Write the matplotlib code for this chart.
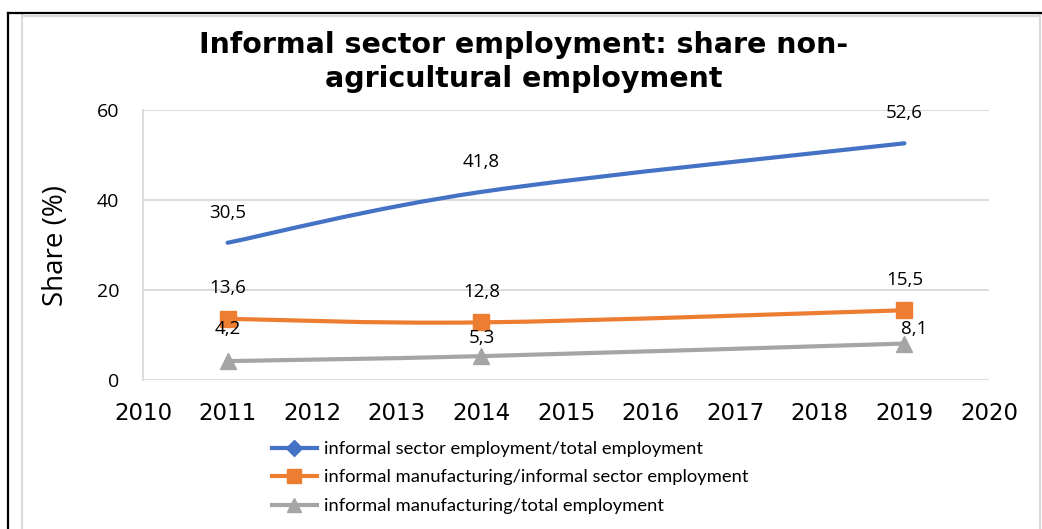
import matplotlib
matplotlib.use("Agg")
import matplotlib.pyplot as plt
from matplotlib.path import Path
from matplotlib.patches import PathPatch
from matplotlib.lines import Line2D

# ---- data ----
years = [2011, 2014, 2019]
sector_total = [30.5, 41.8, 52.6]
manuf_sector = [13.6, 12.8, 15.5]
manuf_total = [4.2, 5.3, 8.1]
labels_sector_total = ["30,5", "41,8", "52,6"]
labels_manuf_sector = ["13,6", "12,8", "15,5"]
labels_manuf_total = ["4,2", "5,3", "8,1"]
series_names = [
    "informal sector employment/total employment",
    "informal manufacturing/informal sector employment",
    "informal manufacturing/total employment",
]
x_ticks = list(range(2010, 2021))
y_ticks = [0, 20, 40, 60]

BLUE = "#4472C4"
ORANGE = "#ED7D31"
GRAY = "#A5A5A5"

fig = plt.figure(figsize=(10.42, 5.29), dpi=100)
W, H = 1042, 529
ax = fig.add_axes([143 / W, 1 - 380 / H, (989 - 143) / W, 270 / H])


def smooth_path(xs, ys):
    """Cubic Bezier path through the points (Catmull-Rom style smoothing)."""
    pts = list(zip(xs, ys))
    n = len(pts)
    verts = [pts[0]]
    codes = [Path.MOVETO]
    for i in range(n - 1):
        p0 = pts[i - 1] if i > 0 else pts[i]
        p1 = pts[i]
        p2 = pts[i + 1]
        p3 = pts[i + 2] if i + 2 < n else pts[i + 1]
        c1 = (p1[0] + (p2[0] - p0[0]) / 6, p1[1] + (p2[1] - p0[1]) / 6)
        c2 = (p2[0] - (p3[0] - p1[0]) / 6, p2[1] - (p3[1] - p1[1]) / 6)
        verts += [c1, c2, p2]
        codes += [Path.CURVE4] * 3
    return Path(verts, codes)


lw = 3.0
for ys, col in [(sector_total, BLUE), (manuf_sector, ORANGE), (manuf_total, GRAY)]:
    ax.add_patch(PathPatch(smooth_path(years, ys), fill=False, edgecolor=col,
                           linewidth=lw, capstyle="round", zorder=3))

ax.plot(years, manuf_sector, linestyle="none", marker="s", markersize=11,
        color=ORANGE, zorder=4)
ax.plot(years, manuf_total, linestyle="none", marker="^", markersize=12,
        color=GRAY, zorder=4)

# data labels
lab_font = dict(family="Open Sans", fontsize=13.5, color="#000000",
                ha="center", va="center")
offsets = {
    "st": [(0, 30), (0, 30), (0, 30)],
    "ms": [(0, 31), (0, 30), (0, 30)],
    "mt": [(0, 32), (0, 18), (10, 15)],
}
for key, ys, labs in [("st", sector_total, labels_sector_total),
                      ("ms", manuf_sector, labels_manuf_sector),
                      ("mt", manuf_total, labels_manuf_total)]:
    for x, y, t, off in zip(years, ys, labs, offsets[key]):
        ax.annotate(t, (x, y), xytext=off, textcoords="offset pixels",
                    zorder=5, **lab_font)

ax.set_xlim(2010, 2020)
ax.set_ylim(0, 60)
ax.set_xticks(x_ticks)
ax.set_yticks(y_ticks)
ax.set_xticklabels([str(t) for t in x_ticks], family="DejaVu Sans", fontsize=16.5)
ax.set_yticklabels([str(t) for t in y_ticks], family="Open Sans", fontsize=14)
ax.tick_params(axis="x", length=0, pad=16)
ax.tick_params(axis="y", length=0, pad=17)
ax.grid(axis="y", color="#D9D9D9", linewidth=1.3, zorder=0)
ax.set_axisbelow(True)
for s in ["top", "right", "bottom"]:
    ax.spines[s].set_visible(False)
ax.spines["left"].set_color("#D9D9D9")
ax.spines["left"].set_linewidth(1.3)

ax.set_ylabel("Share (%)", family="Open Sans", fontsize=20)
ax.yaxis.set_label_coords((70 - 143) / 846, 0.5)

fig.text(524 / W, 1 - 45 / H, "Informal sector employment: share non-",
         family="DejaVu Sans", fontweight="bold", fontsize=20.5,
         ha="center", va="center")
fig.text(524 / W, 1 - 79 / H, "agricultural employment",
         family="DejaVu Sans", fontweight="bold", fontsize=20.5,
         ha="center", va="center")

handles = [
    Line2D([], [], color=BLUE, linewidth=lw, marker="D", markersize=8),
    Line2D([], [], color=ORANGE, linewidth=lw, marker="s", markersize=10),
    Line2D([], [], color=GRAY, linewidth=lw, marker="^", markersize=10),
]
fig.legend(handles, series_names, loc="upper left",
           bbox_to_anchor=(272 / W, 1 - 441 / H), frameon=False,
           prop=dict(family="Lato", size=13.2), handlelength=2.45,
           handletextpad=0.4, labelspacing=0.68, borderaxespad=0,
           borderpad=0)

# chart frame lines
fig.add_artist(Line2D([22 / W, 22 / W], [0, 1 - 15 / H], color="#D9D9D9",
                      linewidth=1.5, transform=fig.transFigure))
fig.add_artist(Line2D([1040 / W, 1040 / W], [0, 1 - 15 / H], color="#D9D9D9",
                      linewidth=1.5, transform=fig.transFigure))
fig.add_artist(Line2D([22 / W, 1040 / W], [1 - 15.5 / H, 1 - 15.5 / H],
                      color="#D9D9D9", linewidth=1.5, transform=fig.transFigure))
fig.add_artist(Line2D([8 / W, 8 / W], [0, 1 - 13 / H], color="#000000",
                      linewidth=1.6, transform=fig.transFigure))
fig.add_artist(Line2D([8 / W, 1], [1 - 13 / H, 1 - 13 / H], color="#000000",
                      linewidth=1.6, transform=fig.transFigure))

fig.savefig("out.png", dpi=100)
